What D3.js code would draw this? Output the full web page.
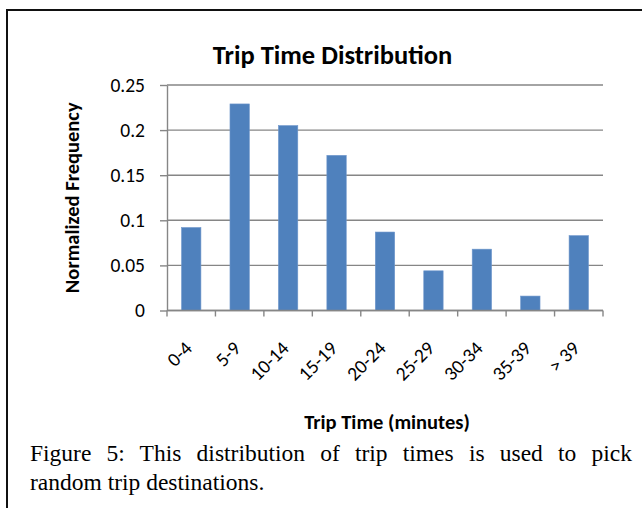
<!DOCTYPE html>
<html>
<head>
<meta charset="utf-8">
<script src="https://cdn.jsdelivr.net/npm/d3@7"></script>
<style>
  html, body { margin: 0; padding: 0; background: #fff; }
  svg { display: block; }
  .sans { font-family: Carlito, Calibri, Lato, sans-serif; }
  .serif { font-family: "Liberation Serif", "Times New Roman", serif; }
</style>
</head>
<body>
<svg id="chart" width="642" height="508"></svg>
<script>
// Trip time bins (minutes) and the share of trips falling in each bin
const categories = ["0-4", "5-9", "10-14", "15-19", "20-24", "25-29", "30-34", "35-39", "> 39"];
const frequency = [0.092, 0.229, 0.205, 0.172, 0.087, 0.044, 0.068, 0.016, 0.083];
const yTickValues = [0, 0.05, 0.1, 0.15, 0.2, 0.25];
const yTickLabels = ["0", "0.05", "0.1", "0.15", "0.2", "0.25"];

const chartTitle = "Trip Time Distribution";
const xTitle = "Trip Time (minutes)";
const yTitle = "Normalized Frequency";
const captionLines = [
  "Figure 5: This distribution of trip times is used to pick",
  "random trip destinations."
];

const svg = d3.select("#chart");

// Figure frame (open to the right and bottom)
svg.append("rect")
  .attr("x", 7).attr("y", 10)
  .attr("width", 700).attr("height", 600)
  .attr("fill", "none")
  .attr("stroke", "#111")
  .attr("stroke-width", 2);

const plot = { left: 167, right: 603, top: 85, bottom: 310.5 };

const x = d3.scaleBand()
  .domain(categories)
  .range([plot.left, plot.right])
  .paddingInner(0.6)
  .paddingOuter(0.3);

const y = d3.scaleLinear()
  .domain([0, 0.25])
  .range([plot.bottom, plot.top]);

const gridColor = "#868686";
const tickFont = "19.5px";

// Horizontal gridlines
svg.append("g")
  .selectAll("line")
  .data(yTickValues)
  .join("line")
  .attr("x1", plot.left).attr("x2", plot.right)
  .attr("y1", d => y(d)).attr("y2", d => y(d))
  .attr("stroke", gridColor)
  .attr("stroke-width", 1.4);

// Y axis with outward ticks
const yAxis = svg.append("g")
  .attr("class", "sans")
  .attr("transform", `translate(${plot.left},0)`)
  .call(d3.axisLeft(y)
    .tickValues(yTickValues)
    .tickFormat((d, i) => yTickLabels[i])
    .tickSize(7)
    .tickPadding(15)
    .tickSizeOuter(0));
yAxis.select(".domain").attr("stroke", gridColor).attr("stroke-width", 1.4);
yAxis.selectAll(".tick line").attr("stroke", gridColor).attr("stroke-width", 1.4);
yAxis.selectAll(".tick text")
  .attr("fill", "#000")
  .style("font-size", tickFont)
  .style("font-family", "Carlito, Calibri, Lato, sans-serif");

// Bars
svg.append("g")
  .selectAll("rect")
  .data(categories.map((c, i) => ({ c, v: frequency[i] })))
  .join("rect")
  .attr("x", d => x(d.c))
  .attr("width", x.bandwidth())
  .attr("y", d => y(d.v))
  .attr("height", d => y(0) - y(d.v))
  .attr("fill", "#4f81bd")
  .attr("stroke", "#6f97cc")
  .attr("stroke-width", 0.6);

// X axis baseline and tick marks at bin boundaries
svg.append("line")
  .attr("x1", plot.left).attr("x2", plot.right)
  .attr("y1", y(0)).attr("y2", y(0))
  .attr("stroke", gridColor).attr("stroke-width", 1.4);

const boundaries = d3.range(categories.length + 1);
svg.append("g")
  .selectAll("line")
  .data(boundaries)
  .join("line")
  .attr("x1", i => plot.left + i * x.step())
  .attr("x2", i => plot.left + i * x.step())
  .attr("y1", y(0)).attr("y2", y(0) + 6)
  .attr("stroke", gridColor).attr("stroke-width", 1.4);

// Rotated category labels
svg.append("g")
  .attr("class", "sans")
  .selectAll("text")
  .data(categories)
  .join("text")
  .attr("transform", d => `translate(${x(d) + x.bandwidth() / 2 + 2},${y(0) + 39}) rotate(-45)`)
  .attr("text-anchor", "end")
  .style("font-size", tickFont)
  .text(d => d);

// Titles
svg.append("text")
  .attr("class", "sans")
  .attr("x", 332.5).attr("y", 64)
  .attr("text-anchor", "middle")
  .style("font-size", "26.5px")
  .style("font-weight", "bold")
  .text(chartTitle);

svg.append("text")
  .attr("class", "sans")
  .attr("x", 387).attr("y", 429)
  .attr("text-anchor", "middle")
  .style("font-size", "20.5px")
  .style("font-weight", "bold")
  .text(xTitle);

svg.append("text")
  .attr("class", "sans")
  .attr("transform", `translate(79,${(plot.top + plot.bottom) / 2}) rotate(-90)`)
  .attr("text-anchor", "middle")
  .style("font-size", "20.5px")
  .style("font-weight", "bold")
  .text(yTitle);

// Caption: first line justified between the margins
const capLeft = 30, capRight = 632;
const cap1 = svg.append("text")
  .attr("class", "serif")
  .attr("x", capLeft).attr("y", 461)
  .style("font-size", "23.5px")
  .text(captionLines[0]);
const natural = cap1.node().getComputedTextLength();
const spaces = captionLines[0].split(" ").length - 1;
cap1.style("word-spacing", `${Math.max(0, (capRight - capLeft - natural) / spaces)}px`);

svg.append("text")
  .attr("class", "serif")
  .attr("x", capLeft).attr("y", 490)
  .style("font-size", "23.5px")
  .text(captionLines[1]);
</script>
</body>
</html>
